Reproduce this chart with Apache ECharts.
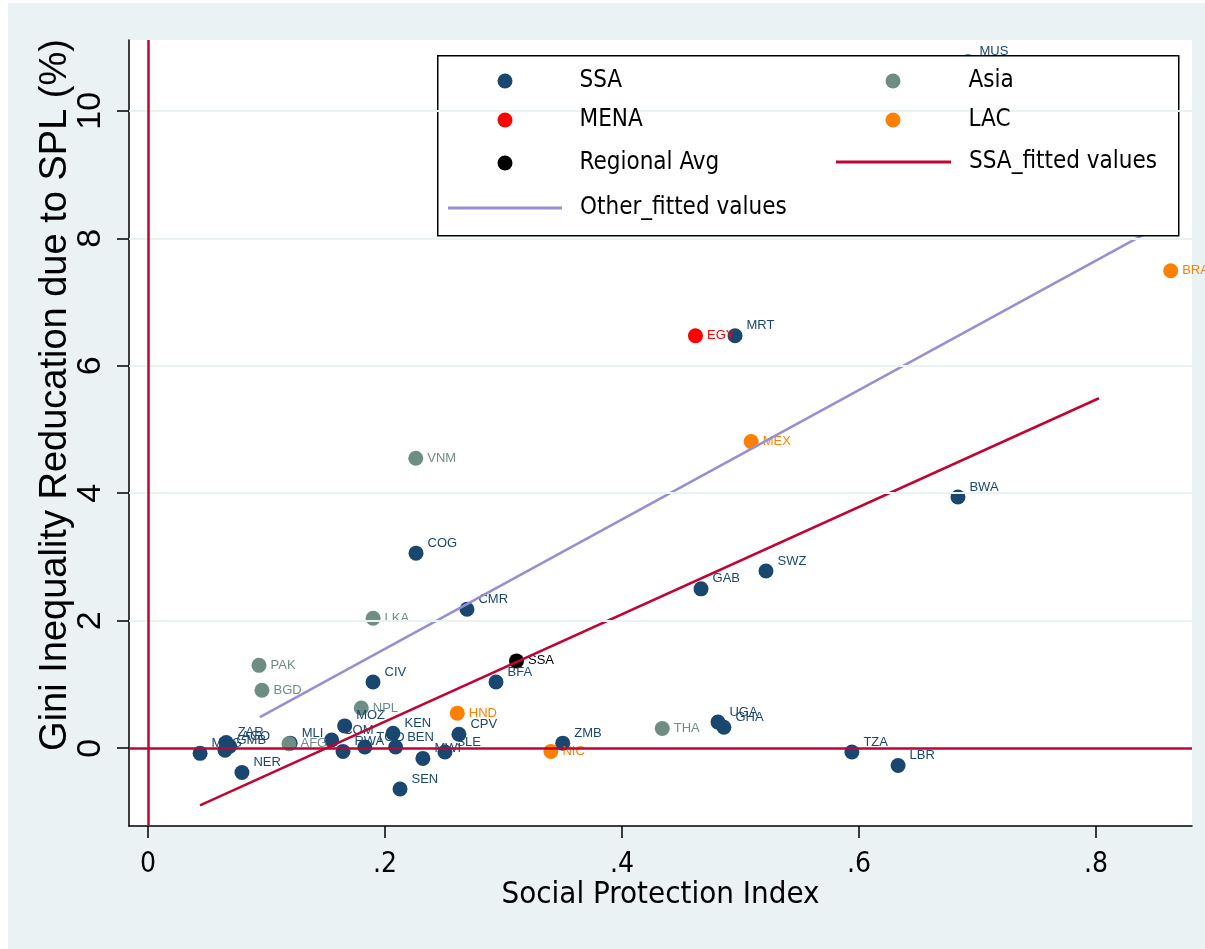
<!DOCTYPE html>
<html>
<head>
<meta charset="utf-8">
<script src="https://cdn.jsdelivr.net/npm/echarts@6/dist/echarts.min.js"></script>
<style>
html,body{margin:0;padding:0;background:#fff;}
#chart{width:1205px;height:949px;}
</style>
</head>
<body>
<div id="chart"></div>
<script>
// ---- data ----
const ssaNames = ['MUS','MRT','BWA','SWZ','GAB','COG','CMR','CIV','BFA','UGA','GHA','TZA','LBR','ZMB','SEN','NER','CPV','KEN','BEN','TGO','MWI','SLE','RWA','COM','MOZ','MLI','MDG','GMB','ZAR','AGO'];
const ssaX = [0.692,0.4954,0.6835,0.5215,0.4667,0.2262,0.2692,0.1899,0.2937,0.481,0.486,0.594,0.633,0.350,0.2127,0.0793,0.2624,0.2068,0.209,0.183,0.232,0.2506,0.1646,0.155,0.166,0.120,0.044,0.065,0.066,0.069];
const ssaY = [10.77,6.47,3.94,2.78,2.50,3.06,2.18,1.04,1.04,0.41,0.33,-0.06,-0.27,0.08,-0.64,-0.38,0.22,0.235,0.02,0.02,-0.16,-0.06,-0.05,0.13,0.35,0.08,-0.08,-0.03,0.09,0.03];

const asiaNames = ['VNM','LKA','PAK','BGD','NPL','AFG','THA'];
const asiaX = [0.226,0.190,0.0937,0.0962,0.180,0.119,0.434];
const asiaY = [4.55,2.04,1.30,0.91,0.63,0.07,0.31];

const menaNames = ['EGY'];
const menaX = [0.462];
const menaY = [6.47];

const lacNames = ['BRA','MEX','HND','NIC'];
const lacX = [0.863,0.509,0.261,0.340];
const lacY = [7.49,4.81,0.55,-0.05];

const avgNames = ['SSA'];
const avgX = [0.311];
const avgY = [1.37];

const ssaFitX = [0.0439, 0.8025];
const ssaFitY = [-0.895, 5.49];
const otherFitX = [0.0945, 0.866];
const otherFitY = [0.487, 8.32];

const xTicks = [0, 0.2, 0.4, 0.6, 0.8];
const xTickLabels = ['0', '.2', '.4', '.6', '.8'];
const yTicks = [0, 2, 4, 6, 8, 10];
const yTickLabels = ['0', '2', '4', '6', '8', '10'];
const yGrid = [2, 4, 6, 8, 10];
const refX = [0];
const refY = [0];

const xTitle = 'Social Protection Index';
const yTitle = 'Gini Inequality Reducation due to SPL (%)';

// ---- styles ----
const C_SSA = '#1a476f', C_ASIA = '#6e8e84', C_MENA = '#ff0000', C_LAC = '#ff8000', C_AVG = '#000000';
const C_RED = '#c00534', C_LAV = '#968fd2', C_BG = '#eaf2f3';
const NARROW = "'Liberation Sans Narrow','Arial Narrow','DejaVu Sans Condensed',sans-serif";
const REG = "'Liberation Sans',Arial,sans-serif";

function pts(xs, ys, names) { return xs.map((x, i) => names ? [x, ys[i], names[i]] : [x, ys[i]]); }
function lookup(vals, labels, v) {
  for (let i = 0; i < vals.length; i++) if (Math.abs(vals[i] - v) < 1e-9) return labels[i];
  return '';
}
function scatter(name, xs, ys, names, color, offY) {
  return {
    name: name, type: 'scatter', z: 3, data: pts(xs, ys, names), symbol: 'circle', symbolSize: 15,
    itemStyle: { color: color, opacity: 1 },
    label: { show: true, position: 'right', distance: 4, offset: [0, offY],
      formatter: p => p.value[2], fontFamily: REG, fontSize: 13, color: color },
    emphasis: { disabled: true }
  };
}

const chart = echarts.init(document.getElementById('chart'), null, { renderer: 'canvas' });

function legendItem(name, icon, left, rowY, w, h, padLeft) {
  return {
    show: true, selectedMode: false, orient: 'horizontal', left: left, top: rowY - 14, padding: 0,
    itemWidth: w, itemHeight: h, z: 6,
    data: [{ name: name, icon: icon }],
    formatter: '{t|{name}}',
    textStyle: { fontFamily: NARROW, fontSize: 24, color: '#000',
      rich: { t: { fontFamily: NARROW, fontSize: 24, color: '#000', padding: [0, 0, 0, padLeft], height: 30, lineHeight: 30 } } }
  };
}

const option = {
  backgroundColor: C_BG,
  animation: false,
  grid: { left: 129, right: 13, top: 40, bottom: 123, show: true, backgroundColor: '#ffffff', borderWidth: 0 },
  xAxis: {
    type: 'value', min: -0.016, max: 0.881,
    axisLine: { show: true, onZero: false, lineStyle: { color: '#000', width: 1.5 } },
    axisTick: { show: true, inside: false, length: 12, customValues: xTicks, lineStyle: { color: '#000', width: 1.5 } },
    axisLabel: { show: true, customValues: xTicks, margin: 25, fontFamily: NARROW, fontSize: 28, color: '#000',
      formatter: v => lookup(xTicks, xTickLabels, v) },
    splitLine: { show: false },
    name: xTitle, nameLocation: 'middle', nameGap: 53, nameMoveOverlap: false,
    nameTextStyle: { fontFamily: NARROW, fontSize: 31, color: '#000' }
  },
  yAxis: {
    type: 'value', min: -1.22, max: 11.11,
    axisLine: { show: true, onZero: false, lineStyle: { color: '#000', width: 1.5 } },
    axisTick: { show: true, inside: false, length: 12, customValues: yTicks, lineStyle: { color: '#000', width: 1.5 } },
    axisLabel: { show: true, customValues: yTicks, rotate: 90, margin: 21, fontFamily: REG, fontSize: 34, color: '#000',
      formatter: v => lookup(yTicks, yTickLabels, v) },
    splitLine: { show: false },
    name: yTitle, nameLocation: 'middle', nameGap: 54, nameRotate: 90, nameMoveOverlap: false,
    nameTextStyle: { fontFamily: REG, fontSize: 38, color: '#000', padding: [0, 0, 0, 76] }
  },
  legend: [
    legendItem('SSA', 'circle', 497.5, 80, 15, 15, 62),
    legendItem('Asia', 'circle', 885.5, 80, 15, 15, 63),
    legendItem('MENA', 'circle', 497.5, 119, 15, 15, 62),
    legendItem('LAC', 'circle', 885.5, 119, 15, 15, 63),
    legendItem('Regional Avg', 'circle', 497.5, 162, 15, 15, 62),
    legendItem('SSA_fitted values', 'rect', 836, 161, 115, 3, 13),
    legendItem('Other_fitted values', 'rect', 448, 207, 114, 3, 13)
  ],
  graphic: [
    { type: 'rect', z: -100, left: 0, top: 0, shape: { width: 8, height: 949 }, style: { fill: '#ffffff' }, silent: true },
    { type: 'rect', z: -100, left: 0, top: 0, shape: { width: 1205, height: 3 }, style: { fill: '#ffffff' }, silent: true },
    { type: 'rect', z: 5, left: 437, top: 55, shape: { width: 741, height: 180 },
      style: { fill: '#ffffff', stroke: '#000000', lineWidth: 1.5 }, silent: true }
  ],
  series: [
    { name: 'grid', type: 'line', z: 1, data: [], silent: true,
      markLine: { silent: true, symbol: 'none', label: { show: false },
        lineStyle: { color: C_BG, width: 2, type: 'solid' },
        data: yGrid.map(v => ({ yAxis: v })) } },
    { name: 'ref', type: 'line', z: 2, data: [], silent: true,
      markLine: { silent: true, symbol: 'none', label: { show: false },
        lineStyle: { color: C_RED, width: 2.5, type: 'solid' },
        data: refX.map(v => ({ xAxis: v })).concat(refY.map(v => ({ yAxis: v }))) } },
    scatter('SSA', ssaX, ssaY, ssaNames, C_SSA, -10),
    scatter('Asia', asiaX, asiaY, asiaNames, C_ASIA, 0),
    scatter('MENA', menaX, menaY, menaNames, C_MENA, 0),
    scatter('LAC', lacX, lacY, lacNames, C_LAC, 0),
    scatter('Regional Avg', avgX, avgY, avgNames, C_AVG, 0),
    { name: 'SSA_fitted values', type: 'line', z: 4, data: pts(ssaFitX, ssaFitY), symbol: 'none', color: C_RED,
      lineStyle: { color: C_RED, width: 2.5 }, itemStyle: { color: C_RED }, silent: true },
    { name: 'Other_fitted values', type: 'line', z: 4, data: pts(otherFitX, otherFitY), symbol: 'none', color: C_LAV,
      lineStyle: { color: C_LAV, width: 2.5 }, itemStyle: { color: C_LAV }, silent: true }
  ]
};
chart.setOption(option);
</script>
</body>
</html>
